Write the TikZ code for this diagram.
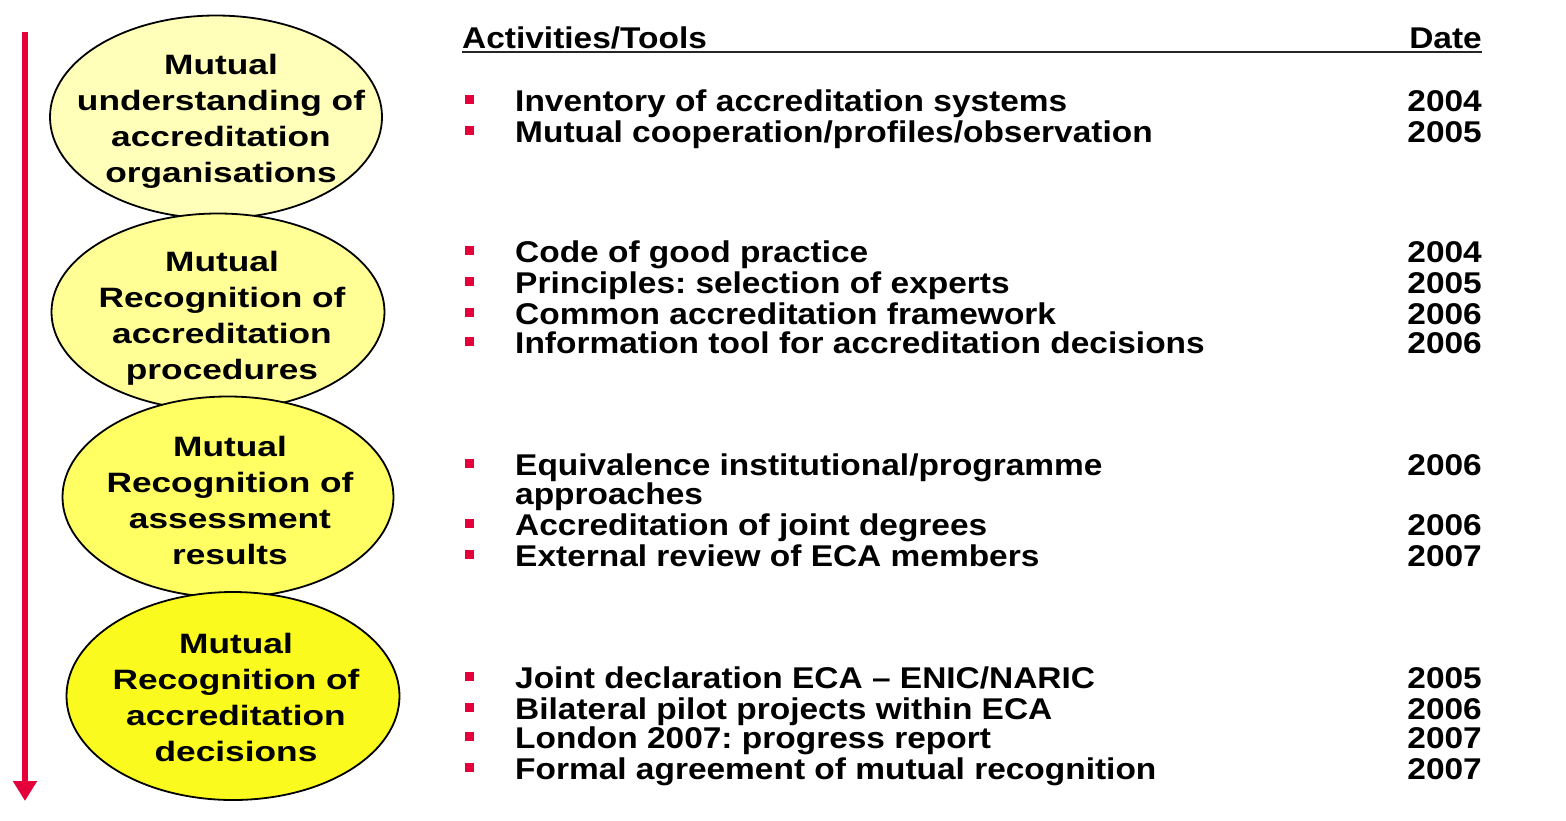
\documentclass[tikz,border=0pt]{standalone}
\usepackage{fontspec}
\setmainfont{Liberation Sans}
\newfontfamily\listfont[FakeStretch=1.115]{Liberation Sans}
\newfontfamily\stagefont[FakeStretch=1.26]{Liberation Sans}
\usepackage{tikz}
\usetikzlibrary{shapes.geometric,arrows.meta}
\frenchspacing

\definecolor{ecared}{RGB}{228,0,58}
\definecolor{stageA}{RGB}{255,255,185}
\definecolor{stageB}{RGB}{255,255,150}
\definecolor{stageC}{RGB}{255,255,100}
\definecolor{stageD}{RGB}{250,250,30}

\tikzset{
  stage/.style={ellipse, draw=black, line width=1.8pt, inner sep=0pt},
  stagetext/.style={inner sep=0pt, align=center, font=\stagefont\bfseries\fontsize{28}{36}\selectfont},
  item/.style={anchor=base west, inner sep=0pt, font=\listfont\bfseries\fontsize{30}{31}\selectfont},
  year/.style={anchor=base east, inner sep=0pt, font=\listfont\bfseries\fontsize{30}{31}\selectfont},
  bullet/.style={fill=ecared, minimum size=9pt, inner sep=0pt}
}

\begin{document}
\begin{tikzpicture}[x=1pt,y=-1pt]
       \useasboundingbox (0,0) rectangle (1566,820);

       \coordinate (T) at (25,32);
       \coordinate (E) at (25,801);
       \draw[ecared, line width=6pt, -{Triangle[width=23pt,length=20pt]}] (T) -- (E);

       \node(S1)[stage, fill=stageA, minimum width=332pt, minimum height=203pt] at (216,117) {};
       \node(NS1)[stagetext] at (221,121) {Mutual\\understanding of\\accreditation\\organisations};

       \node(S2)[stage, fill=stageB, minimum width=333pt, minimum height=197pt] at (218,312) {};
       \node(NS2)[stagetext] at (222,318) {Mutual\\Recognition of\\accreditation\\procedures};

       \node(S3)[stage, fill=stageC, minimum width=331pt, minimum height=201pt] at (228,497) {};
       \node(NS3)[stagetext] at (230,500) {Mutual\\Recognition of\\assessment\\results};

       \node(S4)[stage, fill=stageD, minimum width=333pt, minimum height=208pt] at (233,696) {};
       \node(NS4)[stagetext] at (236,697) {Mutual\\Recognition of\\accreditation\\decisions};

       \node(HA)[item] at (462,48) {Activities/Tools};
       \node(HD)[year] at (1482,48) {Date};
       \coordinate (U1) at (462,52);
       \coordinate (U2) at (1482,52);
       \draw[line width=1.8pt, black!85] (U1) -- (U2);

       \node(P11)[bullet] at (469,99) {};
       \node(L11)[item] at (515,111) {Inventory of accreditation systems};
       \node(D11)[year] at (1482,111) {2004};
       \node(P12)[bullet] at (469,130) {};
       \node(L12)[item] at (515,142) {Mutual cooperation/profiles/observation};
       \node(D12)[year] at (1482,142) {2005};

       \node(P21)[bullet] at (469,250) {};
       \node(L21)[item] at (515,262) {Code of good practice};
       \node(D21)[year] at (1482,262) {2004};
       \node(P22)[bullet] at (469,281) {};
       \node(L22)[item] at (515,293) {Principles: selection of experts};
       \node(D22)[year] at (1482,293) {2005};
       \node(P23)[bullet] at (469,312) {};
       \node(L23)[item] at (515,324) {Common accreditation framework};
       \node(D23)[year] at (1482,324) {2006};
       \node(P24)[bullet] at (469,341) {};
       \node(L24)[item] at (515,353) {Information tool for accreditation decisions};
       \node(D24)[year] at (1482,353) {2006};

       \node(P31)[bullet] at (469,463) {};
       \node(L31)[item] at (515,475) {Equivalence institutional/programme};
       \node(L31b)[item] at (515,504) {approaches};
       \node(D31)[year] at (1482,475) {2006};
       \node(P32)[bullet] at (469,523) {};
       \node(L32)[item] at (515,535) {Accreditation of joint degrees};
       \node(D32)[year] at (1482,535) {2006};
       \node(P33)[bullet] at (469,554) {};
       \node(L33)[item] at (515,566) {External review of ECA members};
       \node(D33)[year] at (1482,566) {2007};

       \node(P41)[bullet] at (469,676) {};
       \node(L41)[item] at (515,688) {Joint declaration ECA – ENIC/NARIC};
       \node(D41)[year] at (1482,688) {2005};
       \node(P42)[bullet] at (469,707) {};
       \node(L42)[item] at (515,719) {Bilateral pilot projects within ECA};
       \node(D42)[year] at (1482,719) {2006};
       \node(P43)[bullet] at (469,736) {};
       \node(L43)[item] at (515,748) {London 2007: progress report};
       \node(D43)[year] at (1482,748) {2007};
       \node(P44)[bullet] at (469,767) {};
       \node(L44)[item] at (515,779) {Formal agreement of mutual recognition};
       \node(D44)[year] at (1482,779) {2007};
     \end{tikzpicture}
\end{document}
